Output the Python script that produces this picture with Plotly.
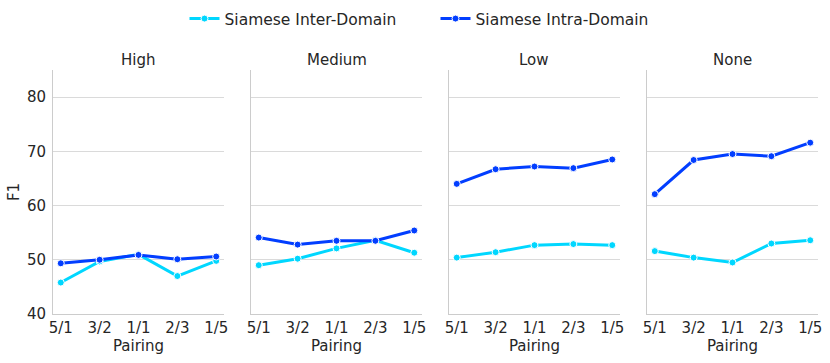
#%% IMPORTS

import plotly.graph_objects as go
from plotly.subplots import make_subplots

#%% DATA

pairings = ['5/1', '3/2', '1/1', '2/3', '1/5']
levels = ['High', 'Medium', 'Low', 'None']

inter_high = [45.8, 49.7, 51.0, 47.0, 49.8]
inter_medium = [49.0, 50.2, 52.1, 53.6, 51.3]
inter_low = [50.4, 51.4, 52.7, 52.9, 52.7]
inter_none = [51.6, 50.4, 49.5, 53.0, 53.6]

intra_high = [49.35, 50.0, 50.9, 50.1, 50.6]
intra_medium = [54.1, 52.8, 53.5, 53.5, 55.4]
intra_low = [64.0, 66.7, 67.2, 66.9, 68.5]
intra_none = [62.1, 68.4, 69.5, 69.1, 71.6]

y_ticks = [40, 50, 60, 70, 80]

#%% PLOT

inter = [inter_high, inter_medium, inter_low, inter_none]
intra = [intra_high, intra_medium, intra_low, intra_none]

series = [
    ('Siamese Inter-Domain', inter, '#00d7ff'),
    ('Siamese Intra-Domain', intra, '#023eff'),
]

fig = make_subplots(rows=1, cols=4, shared_yaxes=True)

for name, data, color in series:
    for i, vals in enumerate(data):
        fig.add_trace(go.Scatter(
            x=pairings,
            y=vals,
            mode='lines+markers',
            name=name,
            legendgroup=name,
            showlegend=(i == 0),
            line=dict(color=color, width=3),
            marker=dict(color=color, size=7, line=dict(color='white', width=1)),
        ), row=1, col=i + 1)

# panel layout (matches the seaborn facet grid)
domains = [[0, 0.2235], [0.2588, 0.4824], [0.5176, 0.7412], [0.7765, 1.0]]
txt = '#262626'

for i in range(4):
    fig.update_xaxes(
        domain=domains[i],
        type='category',
        range=[-0.2, 4.2],
        automargin=False,
        showgrid=False,
        showline=True,
        linecolor='#cccccc',
        linewidth=1,
        ticks='',
        tickfont=dict(size=15, color=txt),
        title=dict(text='Pairing', font=dict(size=15, color=txt), standoff=2),
        row=1, col=i + 1,
    )
    fig.update_yaxes(
        range=[40, 85],
        tickvals=y_ticks,
        automargin=False,
        showgrid=True,
        gridcolor='#dadada',
        gridwidth=1,
        zeroline=False,
        showline=True,
        linecolor='#cccccc',
        linewidth=1,
        ticks='',
        ticklabelstandoff=3,
        showticklabels=(i == 0),
        tickfont=dict(size=15, color=txt),
        row=1, col=i + 1,
    )
    fig.add_annotation(
        text=levels[i],
        x=sum(domains[i]) / 2, xref='paper',
        y=1.0, yref='paper',
        xanchor='center', yanchor='bottom',
        yshift=-1,
        showarrow=False,
        font=dict(size=15, color=txt),
    )

fig.update_yaxes(title=dict(text='F1', font=dict(size=15, color=txt), standoff=3), row=1, col=1)

fig.update_layout(
    width=830,
    height=363,
    template='plotly_white',
    paper_bgcolor='white',
    plot_bgcolor='white',
    font=dict(family='DejaVu Sans', size=15, color=txt),
    margin=dict(l=53, r=12, t=70, b=49, autoexpand=False),
    legend=dict(
        orientation='h',
        x=0.5, xanchor='center', xref='paper',
        y=1 - 19 / 363, yanchor='middle', yref='container',
        font=dict(size=15.5, color=txt),
        itemwidth=30,
        entrywidth=206,
        tracegroupgap=0,
    ),
)

# drop the default body margin so the figure sits at the page corner
fig.write_html(
    "out.html",
    config={'displayModeBar': False},
    post_script="document.body.style.margin='0';",
)
